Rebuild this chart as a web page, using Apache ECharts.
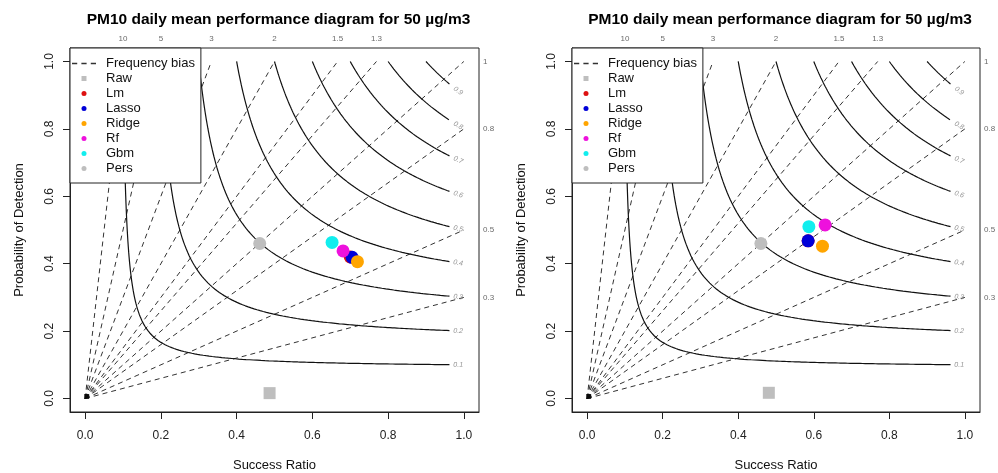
<!DOCTYPE html>
<html><head><meta charset="utf-8">
<script src="https://cdn.jsdelivr.net/npm/echarts@6/dist/echarts.min.js"></script>
<style>html,body{margin:0;padding:0;background:#fff}#c{width:998px;height:473px}</style>
</head><body><div id="c"></div>
<script>
// ---------- data ----------
const titleText = 'PM10 daily mean performance diagram for 50 µg/m3';
const xAxisTitle = 'Success Ratio';
const yAxisTitle = 'Probability of Detection';
const axisTicks = [0, 0.2, 0.4, 0.6, 0.8, 1.0];
const biasLevels = [0.3, 0.5, 0.8, 1, 1.3, 1.5, 2, 3, 5, 10];
const csiLevels = [0.1, 0.2, 0.3, 0.4, 0.5, 0.6, 0.7, 0.8, 0.9];
const models = ['Raw', 'Lm', 'Lasso', 'Ridge', 'Rf', 'Gbm', 'Pers'];
const leftSR  = [0.487, 0.700, 0.705, 0.719, 0.681, 0.652, 0.461];
const leftPOD = [0.016, 0.420, 0.419, 0.406, 0.438, 0.463, 0.460];
const rightSR  = [0.481, 0.585, 0.585, 0.623, 0.630, 0.587, 0.460];
const rightPOD = [0.017, 0.468, 0.468, 0.452, 0.515, 0.510, 0.460];
const originPoint = [0.004, 0.006];

// ---------- styles ----------
const FONT = '"Liberation Sans", Arial, Helvetica, sans-serif';
const squareIcon = 'path://M0,0h10v10h-10z';
const modelStyle = {
  Raw:   {color: '#bebebe', symbol: 'rect',   size: 12, icon: squareIcon},
  Lm:    {color: '#dd1111', symbol: 'circle', size: 13, icon: 'circle'},
  Lasso: {color: '#0000d8', symbol: 'circle', size: 13, icon: 'circle'},
  Ridge: {color: '#ffa500', symbol: 'circle', size: 13, icon: 'circle'},
  Rf:    {color: '#ee11dd', symbol: 'circle', size: 13, icon: 'circle'},
  Gbm:   {color: '#11eeee', symbol: 'circle', size: 13, icon: 'circle'},
  Pers:  {color: '#bebebe', symbol: 'circle', size: 13, icon: 'circle'}
};
const dashIcon = 'path://M0,0h5v1.2h-5z M9,0h5v1.2h-5z M18,0h5v1.2h-5z';
const panels = [
  {left: 70, width: 409, sr: leftSR, pod: leftPOD},
  {left: 572, width: 408, sr: rightSR, pod: rightPOD}
];
const TOP = 48, HEIGHT = 364;
const PXX = 409 / 1.08, PXY = 364 / 1.08;

function csiPod(c, sr) { return 1 / (1 / c - 1 / sr + 1); }

const grid = [], xAxis = [], yAxis = [], series = [], legend = [], title = [];
panels.forEach((p, i) => {
  grid.push({left: p.left, top: TOP, width: p.width, height: HEIGHT, show: true,
    outerBoundsMode: 'none', containLabel: false,
    borderColor: '#222', borderWidth: 1, backgroundColor: 'transparent'});
  title.push({text: titleText, left: p.left + p.width / 2 - 1, textAlign: 'center', top: 7,
    textStyle: {fontFamily: FONT, fontSize: 15.5, fontWeight: 'bold', color: '#000'}});
  xAxis.push({type: 'value', gridIndex: i, min: -0.04, max: 1.04,
    name: xAxisTitle, nameLocation: 'middle', nameGap: 47,
    nameTextStyle: {fontFamily: FONT, fontSize: 13, color: '#111'},
    axisLine: {show: true, onZero: false, lineStyle: {color: '#222'}},
    axisTick: {show: true, length: 7, customValues: axisTicks, lineStyle: {color: '#222'}},
    axisLabel: {customValues: axisTicks, margin: 18, fontFamily: FONT, fontSize: 12, color: '#222',
      formatter: v => v.toFixed(1)},
    splitLine: {show: false}});
  yAxis.push({type: 'value', gridIndex: i, min: -0.04, max: 1.04,
    name: yAxisTitle, nameLocation: 'middle', nameGap: 44,
    nameTextStyle: {fontFamily: FONT, fontSize: 13, color: '#111'},
    axisLine: {show: true, onZero: false, lineStyle: {color: '#222'}},
    axisTick: {show: true, length: 7, customValues: axisTicks, lineStyle: {color: '#222'}},
    axisLabel: {customValues: axisTicks, rotate: 90, margin: 14, fontFamily: FONT, fontSize: 12, color: '#222',
      formatter: v => v.toFixed(1)},
    splitLine: {show: false}});

  // frequency bias lines
  biasLevels.forEach(b => {
    series.push({type: 'line', name: 'Frequency bias', xAxisIndex: i, yAxisIndex: i,
      data: [[0, 0], b >= 1 ? [1 / b, 1] : [1, b]], symbol: 'none', silent: true, z: 2,
      lineStyle: {color: '#333', width: 1, type: [5, 4]}, itemStyle: {color: '#333'}});
  });
  // CSI contours
  csiLevels.forEach(c => {
    const pts = [];
    const N = 220, end = 0.962;
    for (let k = 0; k <= N; k++) {
      const sr = c + (end - c) * Math.pow(k / N, 2);
      pts.push([sr, csiPod(c, sr)]);
    }
    series.push({type: 'line', name: 'CSI', xAxisIndex: i, yAxisIndex: i, data: pts,
      symbol: 'none', silent: true, z: 2, lineStyle: {color: '#111', width: 1.2}});
  });
  // CSI labels
  series.push({type: 'scatter', name: 'csiLabels', xAxisIndex: i, yAxisIndex: i, silent: true, clip: false,
    symbolSize: 0, z: 3,
    data: csiLevels.map(c => {
      const sr = 0.985, pod = csiPod(c, sr);
      const ang = Math.atan((pod * pod) / (sr * sr) * PXY / PXX) * 180 / Math.PI;
      return {value: [sr, pod], name: String(c),
        label: {show: true, rotate: -ang, position: 'inside', formatter: '{b}',
          fontFamily: FONT, fontSize: 7, color: '#777', fontStyle: 'italic'}};
    })});
  // bias labels (top and right)
  series.push({type: 'scatter', name: 'biasTop', xAxisIndex: i, yAxisIndex: i, silent: true, clip: false,
    symbolSize: 0,
    data: biasLevels.filter(b => b > 1).map(b => ({value: [1 / b, 1.04], name: String(b)})),
    label: {show: true, position: 'top', distance: 5, formatter: '{b}', fontFamily: FONT, fontSize: 8, color: '#444'}});
  series.push({type: 'scatter', name: 'biasRight', xAxisIndex: i, yAxisIndex: i, silent: true, clip: false,
    symbolSize: 0,
    data: biasLevels.filter(b => b <= 1).map(b => ({value: [1.04, b], name: String(b)})),
    label: {show: true, position: 'right', distance: 4, formatter: '{b}', fontFamily: FONT, fontSize: 8, color: '#444'}});
  // origin marker
  series.push({type: 'scatter', name: 'origin', xAxisIndex: i, yAxisIndex: i, silent: true,
    symbol: 'rect', symbolSize: 5, itemStyle: {color: '#000'}, data: [originPoint], z: 4});
  // model points
  models.forEach((m, k) => {
    const st = modelStyle[m];
    series.push({type: 'scatter', name: m, xAxisIndex: i, yAxisIndex: i, symbol: st.symbol,
      symbolSize: st.size, itemStyle: {color: st.color, opacity: 1}, data: [[p.sr[k], p.pod[k]]], z: 5});
  });

  legend.push({left: p.left, top: TOP, orient: 'vertical', selectedMode: false, symbolKeepAspect: true,
    backgroundColor: '#fff', borderColor: '#222', borderWidth: 1, borderRadius: 0,
    padding: [8, 6, 7, 2], itemWidth: 24, itemHeight: 5, itemGap: 0, z: 10,
    textStyle: {fontFamily: FONT, fontSize: 13, color: '#111', lineHeight: 15, padding: [0, 0, 0, 5]},
    data: [{name: 'Frequency bias', icon: dashIcon, itemStyle: {color: '#333'}}]
      .concat(models.map(m => ({name: m, icon: modelStyle[m].icon})))});
});

const chart = echarts.init(document.getElementById('c'));
chart.setOption({animation: false, backgroundColor: '#fff', title, grid, xAxis, yAxis, legend, series});
</script></body></html>
